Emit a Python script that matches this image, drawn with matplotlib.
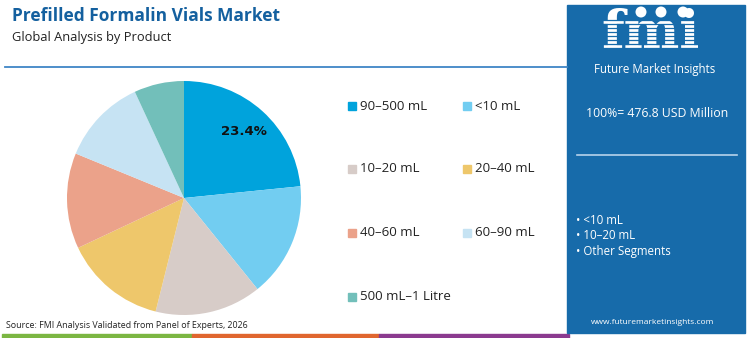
import matplotlib.pyplot as plt
from matplotlib.patches import Rectangle, Ellipse
import numpy as np

products = ['90–500 mL', '<10 mL', '10–20 mL', '20–40 mL', '40–60 mL', '60–90 mL', '500 mL–1 Litre']
shares = [23.4, 15.8, 14.7, 14.1, 13.2, 11.9, 6.9]
colors = ['#00A3DC', '#72CDF1', '#D7CCC8', '#EEC76B', '#EBA28A', '#C6E3F3', '#72BFBA']
total_text = '100%= 476.8 USD Million'
bullets = ['<10 mL', '10–20 mL', 'Other Segments']

W, H = 750, 338
fig = plt.figure(figsize=(7.5, 3.38), dpi=100)
fig.patch.set_facecolor('white')
font = 'Open Sans'
panel = '#176BAA'


def px(x, y):
    # pixel coords (top-left origin) -> figure fraction
    return x / W, 1 - y / H


# title block
fig.text(*px(12, 16), 'Prefilled Formalin Vials Market', fontsize=12.5, fontweight='bold',
         color='#14609F', family=font, va='center')
fig.text(*px(12, 37), 'Global Analysis by Product', fontsize=9.3, color='#222222',
         family=font, va='center')
fig.add_artist(plt.Line2D([5 / W, 567 / W], [1 - 67 / H] * 2, color='#3F86C6', lw=1.3))

# pie
cx, cy, r = 184, 198, 117
ax = fig.add_axes([(cx - r) / W, (H - cy - r) / H, 2 * r / W, 2 * r / H])
wedges, _ = ax.pie(shares, colors=colors, startangle=90, counterclock=False,
                   wedgeprops=dict(linewidth=0))
ax.set_xlim(-1, 1)
ax.set_ylim(-1, 1)
ax.set_aspect('equal')
w0 = wedges[0]
mid = np.deg2rad((w0.theta1 + w0.theta2) / 2)
ax.text(0.77 * np.cos(mid), 0.77 * np.sin(mid), f'{shares[0]}%', fontsize=9.5,
        fontweight='bold', ha='center', va='center', color='#111111', family='Arial')

# legend
rows = [106, 169, 233, 297]
cols = [348, 463]
for i, (name, c) in enumerate(zip(products, colors)):
    x = cols[i % 2]
    y = rows[i // 2]
    fig.add_artist(Rectangle(px(x, y + 4), 8 / W, 8 / H, color=c, transform=fig.transFigure))
    fig.text(*px(x + 12, y), name, fontsize=9.5, color='#222222', family=font, va='center')

# source + bottom strip
fig.text(*px(6, 326), 'Source: FMI Analysis Validated from Panel of Experts, 2026', fontsize=6.4,
         color='#222222', family=font, va='center')
for x0, x1, c in [(2, 192, '#7BB642'), (192, 379, '#E0662F'), (379, 569, '#8B3A8F')]:
    fig.add_artist(Rectangle(px(x0, 338), (x1 - x0) / W, 4 / H, color=c, transform=fig.transFigure))

# right panel
fig.add_artist(Rectangle(px(567, 333), 178 / W, 328 / H, color=panel, transform=fig.transFigure))
lx = 651
fig.text(*px(lx, 34), 'fmi', fontsize=38, fontweight='bold', color='white', family='DejaVu Serif',
         ha='center', va='center', zorder=3)
for yy in range(20, 52, 4):
    fig.add_artist(plt.Line2D([598 / W, 706 / W], [1 - yy / H] * 2, color=panel, lw=0.9, zorder=4))
for dx in (-10, 10, 32):
    fig.add_artist(Ellipse(px(lx + dx, 12), 11 / W, 11 / H, facecolor='white', edgecolor='none',
                           transform=fig.transFigure, zorder=5))
fig.text(*px(655, 69), 'Future Market Insights', fontsize=8.3, color='white', family=font,
         ha='center', va='center')
fig.text(*px(657, 114), total_text, fontsize=8.8, color='white', family=font, ha='center', va='center')
fig.add_artist(plt.Line2D([577 / W, 737 / W], [1 - 155 / H] * 2, color='#B7D3EC', lw=1.2))
for i, b in enumerate(bullets):
    fig.text(*px(576, 220 + i * 15.5), '• ' + b, fontsize=8.3, color='white', family=font, va='center')
fig.text(*px(653, 323), 'www.futuremarketinsights.com', fontsize=6, color='white', family=font,
         ha='center', va='center')

fig.savefig('out.png', dpi=100, facecolor='white')
